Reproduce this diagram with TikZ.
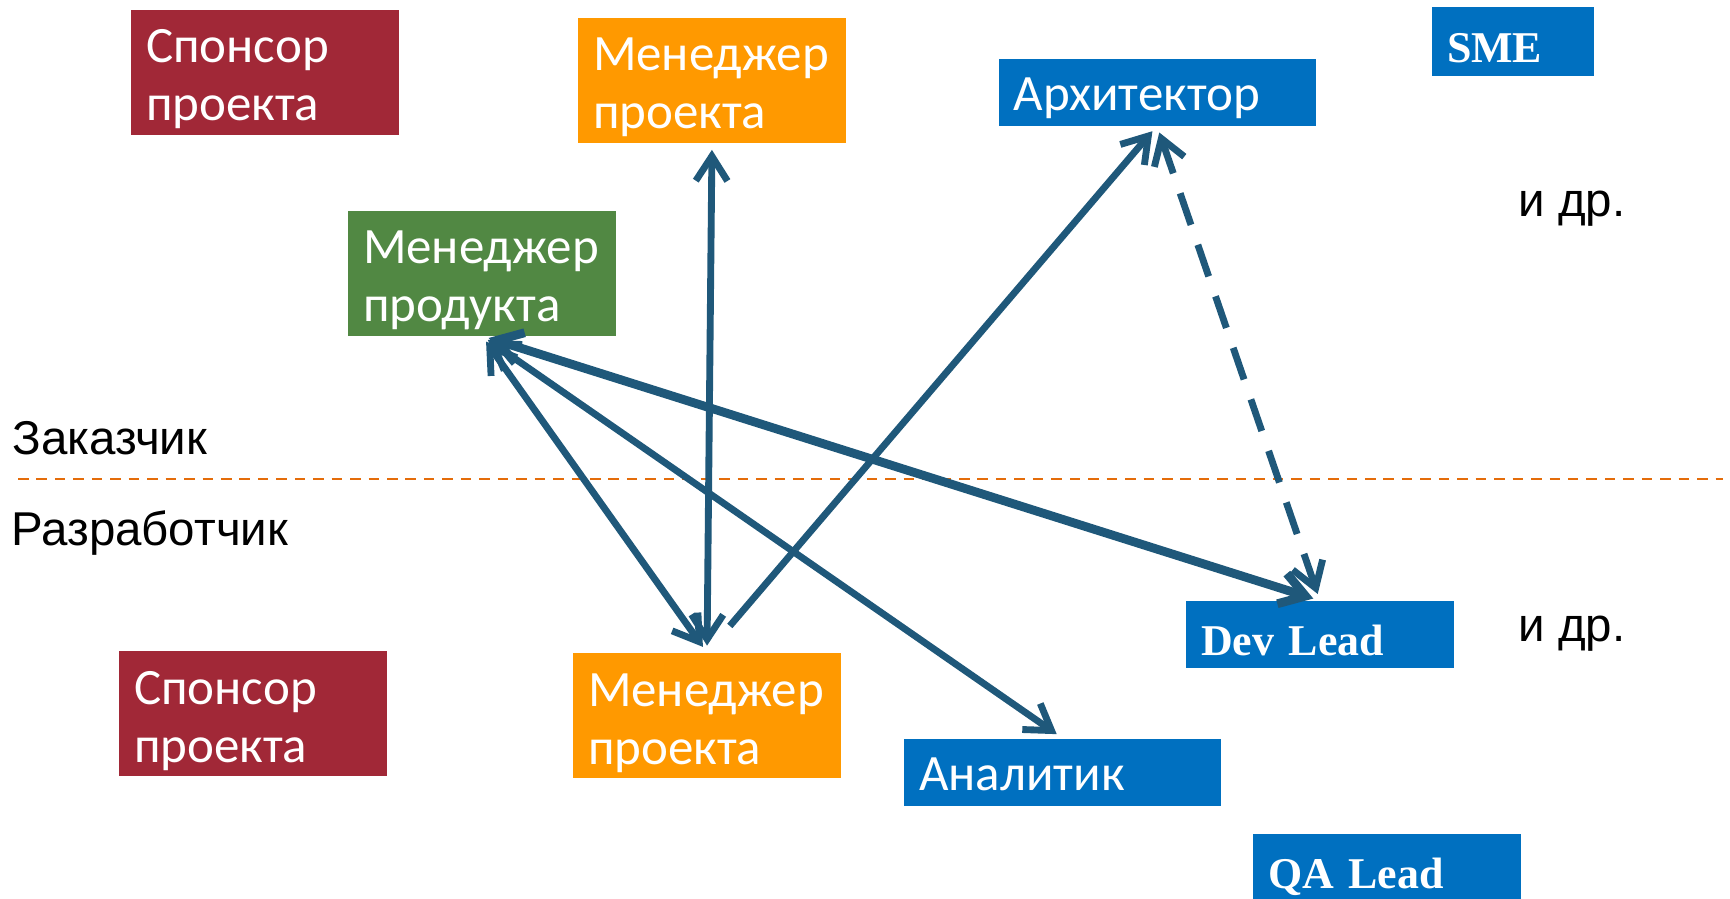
\documentclass[tikz,border=0pt]{standalone}
\usepackage{fontspec}
\setmainfont{Carlito}
\newfontfamily\blackfont{Liberation Sans}
\newfontfamily\leadfont{Liberation Serif}
\usepackage{tikz}
\usetikzlibrary{arrows.meta}
\usetikzlibrary{positioning}
\definecolor{sponsorred}{RGB}{161,40,55}
\definecolor{pmorange}{RGB}{255,153,0}
\definecolor{productgreen}{RGB}{81,136,67}
\definecolor{teamblue}{RGB}{0,112,192}
\definecolor{linkblue}{RGB}{31,88,122}
\definecolor{borderorange}{RGB}{228,108,10}

\begin{document}
\begin{tikzpicture}[<->,>={Straight Barb[length=14pt,width=18pt]},shorten >=4pt,shorten <=4pt,
  link/.style={draw=linkblue,line width=3.9pt},
  role node/.style={rectangle,text=white,inner xsep=0.3cm,inner ysep=0pt,align=left,font=\fontsize{29}{33}\selectfont},
  wide node/.style={role node,text width=4.76cm,minimum height=2.5cm,text height=27pt},
  long node/.style={role node,text width=5.74cm,minimum height=1.34cm,text height=27pt,text depth=6pt},
  lead node/.style={role node,text width=4.76cm,minimum height=1.34cm,text height=24pt,text depth=0pt,font=\leadfont\bfseries\fontsize{25}{28}\selectfont},
  side label/.style={font=\blackfont\fontsize{27}{31}\selectfont,inner sep=0pt}]

	      \useasboundingbox (0,0) rectangle (34.6,-17.98);

	      \node[wide node,fill=sponsorred] at (5.30,-1.44) (sponsorTop) {Спонсор\\проекта};
	      \node[wide node,fill=pmorange] at (14.24,-1.60) (pmTop) {Менеджер\\проекта};
	      \node[wide node,fill=productgreen] at (9.64,-5.46) (product) {Менеджер\\продукта};
	      \node[long node,fill=teamblue] at (23.14,-1.84) (arch) {Архитектор};
	      \node[lead node,fill=teamblue,text width=2.64cm,minimum height=1.38cm] at (30.26,-0.83) (sme) {SME};
	      \node[side label] at (31.44,-4.17) (etcTop) {и др.};

	      \node[side label,anchor=west] at (0.24,-8.76) (customer) {Заказчик};
	      \node[side label,anchor=west] at (0.22,-10.66) (developer) {Разработчик};
	      \coordinate (borderStart) at (0.36,-9.58);
	      \coordinate (borderEnd) at (34.46,-9.58);

	      \node[lead node,fill=teamblue] at (26.40,-12.69) (devLead) {Dev Lead};
	      \node[side label] at (31.44,-12.67) (etcBottom) {и др.};
	      \node[wide node,fill=sponsorred] at (5.06,-14.27) (sponsorBot) {Спонсор\\проекта};
	      \node[wide node,fill=pmorange] at (14.14,-14.31) (pmBot) {Менеджер\\проекта};
	      \node[long node,fill=teamblue] at (21.25,-15.44) (analyst) {Аналитик};
	      \node[lead node,fill=teamblue] at (27.74,-17.35) (qaLead) {QA Lead};

	      \draw[-,shorten >=0pt,shorten <=0pt,borderorange,line width=1.1pt,dash pattern=on 6pt off 4.5pt] (borderStart) -- (borderEnd);

	      \path
	      (pmBot.north) edge[link] (pmTop.south)
	      (product.south) edge[link] (pmBot.north)
	      (product.south) edge[link] (analyst.north)
	      (product.south) edge[link,line width=5pt] (devLead.north)
	      (pmBot.north) edge[link,->,shorten <=20pt] (arch.south)
	      (arch.south) edge[link,dash pattern=on 19pt off 12pt] (devLead.north)
	      ;

	    \end{tikzpicture}
\end{document}
